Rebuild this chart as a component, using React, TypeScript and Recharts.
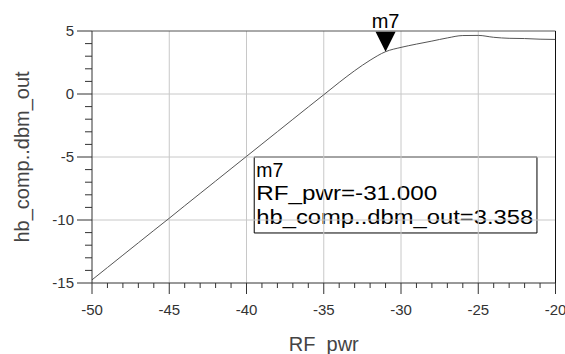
import React from 'react';
import {
  ComposedChart,
  Line,
  XAxis,
  YAxis,
  ReferenceLine,
  ReferenceArea,
  ReferenceDot,
} from 'recharts';

// ---- data ----
const rfPwr = [
  -50, -49, -48, -47, -46, -45, -44, -43, -42, -41, -40, -39, -38, -37, -36, -35,
  -34, -33, -32, -31, -30, -29, -28, -27, -26, -25, -24, -23, -22, -21, -20,
];
const dbmOut = [
  -14.75, -13.77, -12.79, -11.81, -10.83, -9.86, -8.87, -7.89, -6.91, -5.93, -4.95,
  -3.97, -2.99, -2.01, -1.03, -0.06, 0.92, 1.85, 2.68, 3.358, 3.7, 3.96, 4.2, 4.45,
  4.64, 4.65, 4.5, 4.42, 4.4, 4.35, 4.33,
];
const xMajorTicks = [-50, -45, -40, -35, -30, -25, -20];
const xAllTicks = [
  -50, -49, -48, -47, -46, -45, -44, -43, -42, -41, -40, -39, -38, -37, -36, -35,
  -34, -33, -32, -31, -30, -29, -28, -27, -26, -25, -24, -23, -22, -21, -20,
];
const yMajorTicks = [-15, -10, -5, 0, 5];
const yAllTicks = [
  -15, -14, -13, -12, -11, -10, -9, -8, -7, -6, -5, -4, -3, -2, -1, 0, 1, 2, 3, 4, 5,
];
const xGridValues = [-45, -40, -35, -30, -25];
const yGridValues = [-10, -5, 0];

const xTitle = 'RF_pwr';
const yTitle = 'hb_comp..dbm_out';
const markerName = 'm7';
const markerX = -31;
const markerY = 3.358;
const markerLines = ['m7', 'RF_pwr=-31.000', 'hb_comp..dbm_out=3.358'];
// annotation box extent in data units
const boxX1 = -39.5;
const boxX2 = -21.2;
const boxYTop = -5;
const boxYBottom = -11.03;

const data = rfPwr.map((x, i) => ({ x, out: dbmOut[i] }));

const FONT = '"Liberation Sans", Arial, sans-serif';

const XTick = (props: any) => {
  const { x, y, payload } = props;
  const v = payload.value;
  const major = xMajorTicks.includes(v);
  return (
    <g>
      <line x1={x} x2={x} y1={y} y2={y + (major ? 11 : 5)} stroke="#333" strokeWidth={1} />
      {major && (
        <text x={x} y={y + 32} textAnchor="middle" fontSize={15} fill="#333" fontFamily={FONT}>
          {v}
        </text>
      )}
    </g>
  );
};

const YTick = (props: any) => {
  const { x, y, payload } = props;
  const v = payload.value;
  const major = yMajorTicks.includes(v);
  return (
    <g>
      <line x1={x} x2={x - (major ? 15 : 7)} y1={y} y2={y} stroke="#333" strokeWidth={1} />
      {major && (
        <text x={x - 18} y={y + 5} textAnchor="end" fontSize={15} fill="#333" fontFamily={FONT}>
          {v}
        </text>
      )}
    </g>
  );
};

const XTitle = (props: any) => {
  const vb = props.viewBox || { x: 92, y: 283, width: 463, height: 71 };
  return (
    <text
      x={vb.x + vb.width / 2}
      y={vb.y + 68}
      textAnchor="middle"
      fontSize={20}
      fill="#444"
      fontFamily={FONT}
    >
      {xTitle}
    </text>
  );
};

const YTitle = (props: any) => {
  const vb = props.viewBox || { x: 0, y: 31, width: 92, height: 252 };
  const cx = vb.x + 28.5;
  const cy = vb.y + vb.height / 2;
  return (
    <text
      x={cx}
      y={cy}
      transform={`rotate(-90, ${cx}, ${cy})`}
      textAnchor="middle"
      fontSize={20}
      fill="#444"
      fontFamily={FONT}
    >
      {yTitle}
    </text>
  );
};

const BoxText = (props: any) => {
  const vb = props.viewBox;
  if (!vb) return null;
  const lens = [27, 181, 277];
  const offs = [19.7, 43, 67];
  return (
    <g>
      {markerLines.map((t, i) => (
        <text
          key={i}
          x={vb.x + 2}
          y={vb.y + offs[i]}
          fontSize={20}
          fill="#000"
          fontFamily={FONT}
          textLength={lens[i]}
          lengthAdjust="spacingAndGlyphs"
        >
          {t}
        </text>
      ))}
    </g>
  );
};

const MarkerShape = (props: any) => {
  const { cx, cy } = props;
  return (
    <g>
      <polygon points={`${cx - 10},${cy - 20} ${cx + 10},${cy - 20} ${cx},${cy}`} fill="#000" />
      <text x={cx} y={cy - 23.5} textAnchor="middle" fontSize={20} fill="#000" fontFamily={FONT}>
        {markerName}
      </text>
    </g>
  );
};

export default function App() {
  return (
    <div style={{ width: 565, height: 354, background: '#fff' }}>
      <style>{`body{margin:0;background:#fff}`}</style>
      <ComposedChart
        width={565}
        height={354}
        data={data}
        margin={{ top: 31, right: 9.5, bottom: 0, left: 0 }}
      >
        <XAxis
          dataKey="x"
          type="number"
          domain={[-50, -20]}
          ticks={xAllTicks}
          interval={0}
          tickLine={false}
          tickSize={0}
          tickMargin={0}
          tick={<XTick />}
          height={71}
          stroke="#333"
          axisLine={{ stroke: '#333' }}
          allowDataOverflow
          label={<XTitle />}
        />
        <YAxis
          type="number"
          domain={[-15, 5]}
          ticks={yAllTicks}
          interval={0}
          tickLine={false}
          tickSize={0}
          tickMargin={0}
          tick={<YTick />}
          width={92}
          axisLine={{ stroke: '#333' }}
          allowDataOverflow
          label={<YTitle />}
        />
        {xGridValues.map((v) => (
          <ReferenceLine key={'gx' + v} x={v} stroke="#c8c8c8" strokeWidth={1} />
        ))}
        {yGridValues.map((v) => (
          <ReferenceLine key={'gy' + v} y={v} stroke="#c8c8c8" strokeWidth={1} />
        ))}
        <ReferenceLine y={5} stroke="#555" strokeWidth={1} />
        <ReferenceLine x={-20} stroke="#111" strokeWidth={1} />
        <Line
          dataKey="out"
          type="monotone"
          stroke="#555"
          strokeWidth={1}
          dot={false}
          isAnimationActive={false}
        />
        <ReferenceArea
          x1={boxX1}
          x2={boxX2}
          y1={boxYBottom}
          y2={boxYTop}
          fill="#fff"
          fillOpacity={1}
          stroke="#000"
          strokeWidth={1}
          strokeOpacity={1}
          label={<BoxText />}
        />
        <ReferenceDot x={markerX} y={markerY} r={0} shape={<MarkerShape />} />
      </ComposedChart>
    </div>
  );
}
